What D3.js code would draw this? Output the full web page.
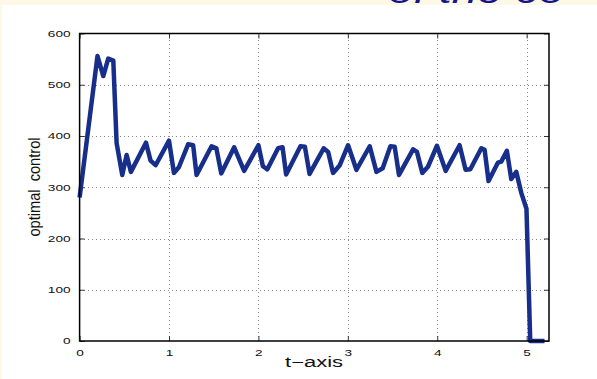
<!DOCTYPE html>
<html>
<head>
<meta charset="utf-8">
<script src="https://cdn.jsdelivr.net/npm/d3@7"></script>
<style>
  html, body { margin: 0; padding: 0; background: #fef8e6; }
  svg { display: block; }
</style>
</head>
<body>
<div id="chart"></div>
<script>
// optimal control vs time
const tValues = [0, 0.2, 0.265, 0.32, 0.377, 0.414, 0.477, 0.526, 0.574, 0.742, 0.794, 0.85,
  1.0, 1.055, 1.11, 1.215, 1.27, 1.308, 1.476, 1.53, 1.584, 1.729, 1.84,
  2.0, 2.05, 2.1, 2.22, 2.27, 2.31, 2.47, 2.52, 2.572, 2.73, 2.78, 2.835, 2.91,
  3.003, 3.096, 3.245, 3.32, 3.39, 3.476, 3.524, 3.572, 3.73, 3.773, 3.833, 3.896,
  3.997, 4.094, 4.25, 4.317, 4.37, 4.493, 4.53, 4.574, 4.678, 4.716, 4.779, 4.828,
  4.884, 4.94, 4.998, 5.04, 5.2];
const control = [280, 556, 517, 551, 547, 386, 324, 363, 330, 387, 352, 343,
  391, 328, 339, 384, 382, 324, 380, 376, 327, 378, 332,
  382, 341, 335, 376, 378, 325, 380, 379, 326, 376, 369, 328, 343,
  382, 334, 380, 330, 337, 380, 379, 324, 374, 369, 328, 340,
  381, 332, 382, 334, 335, 376, 373, 312, 348, 350, 371, 316,
  330, 289, 258, 0, 0];
const xTicks = [0, 1, 2, 3, 4, 5];
const yTicks = [0, 100, 200, 300, 400, 500, 600];

const width = 597, height = 379;
const margin = { top: 33.5, right: 48, bottom: 38, left: 79.6 };

const svg = d3.select('#chart').append('svg')
  .attr('width', width)
  .attr('height', height);

// white slide panel
svg.append('rect')
  .attr('x', 2).attr('y', 5)
  .attr('width', width - 2).attr('height', height - 5)
  .attr('fill', '#ffffff');

// cut-off heading at the top
svg.append('text')
  .attr('transform', 'translate(388,3) scale(1.35,1)')
  .attr('font-family', 'Liberation Sans, Arial, sans-serif')
  .attr('font-style', 'italic')
  .attr('font-size', 34)
  .attr('fill', '#14148c')
  .text('of the co');

const x = d3.scaleLinear()
  .domain([0, 5.25])
  .range([margin.left, width - margin.right]);

const y = d3.scaleLinear()
  .domain([0, 600])
  .range([height - margin.bottom, margin.top]);

// grid
svg.append('g')
  .attr('class', 'grid')
  .attr('transform', `translate(0,${height - margin.bottom})`)
  .call(d3.axisBottom(x).tickValues(xTicks.slice(1))
    .tickSize(-(height - margin.top - margin.bottom)).tickFormat(''));
svg.append('g')
  .attr('class', 'grid')
  .attr('transform', `translate(${margin.left},0)`)
  .call(d3.axisLeft(y).tickValues(yTicks.slice(1, -1))
    .tickSize(-(width - margin.left - margin.right)).tickFormat(''));
svg.selectAll('.grid line')
  .attr('stroke', '#8a8a8a')
  .attr('stroke-width', 1)
  .attr('stroke-dasharray', '1,3')
  .attr('shape-rendering', 'crispEdges');
svg.selectAll('.grid path').remove();

// inward ticks on all four sides
const tickLen = 5;
const axB = svg.append('g')
  .attr('transform', `translate(0,${height - margin.bottom})`)
  .call(d3.axisBottom(x).tickValues(xTicks).tickFormat(d3.format('d'))
    .tickSizeInner(-tickLen).tickSizeOuter(0).tickPadding(9));
const axT = svg.append('g')
  .attr('transform', `translate(0,${margin.top})`)
  .call(d3.axisTop(x).tickValues(xTicks).tickSizeInner(-tickLen).tickSizeOuter(0).tickFormat(''));
const axL = svg.append('g')
  .attr('transform', `translate(${margin.left},0)`)
  .call(d3.axisLeft(y).tickValues(yTicks).tickFormat(d3.format('d'))
    .tickSizeInner(-tickLen).tickSizeOuter(0).tickPadding(9));
const axR = svg.append('g')
  .attr('transform', `translate(${width - margin.right},0)`)
  .call(d3.axisRight(y).tickValues(yTicks).tickSizeInner(-tickLen).tickSizeOuter(0).tickFormat(''));

[axB, axT, axL, axR].forEach(a => {
  a.select('.domain').remove();
  a.selectAll('line').attr('stroke', '#333').attr('stroke-width', 1);
});

svg.selectAll('.tick text')
  .attr('font-family', 'Liberation Sans, Arial, sans-serif')
  .attr('font-size', 9)
  .attr('fill', '#111')
  .attr('lengthAdjust', 'spacingAndGlyphs')
  .attr('textLength', function() { return this.textContent.length * 7.6; });

// line
const line = d3.line()
  .x((d, i) => x(tValues[i]))
  .y(d => y(d));

svg.append('path')
  .datum(control)
  .attr('fill', 'none')
  .attr('stroke', '#172e8a')
  .attr('stroke-width', 4.5)
  .attr('stroke-linejoin', 'round')
  .attr('d', line);

// box
svg.append('rect')
  .attr('x', margin.left).attr('y', margin.top)
  .attr('width', width - margin.left - margin.right)
  .attr('height', height - margin.top - margin.bottom)
  .attr('fill', 'none')
  .attr('stroke', '#000')
  .attr('stroke-width', 1.5);

// axis labels
svg.append('text')
  .attr('x', 314).attr('y', 367)
  .attr('text-anchor', 'middle')
  .attr('font-family', 'Liberation Sans, Arial, sans-serif')
  .attr('font-size', 14)
  .attr('fill', '#111')
  .attr('lengthAdjust', 'spacingAndGlyphs')
  .attr('textLength', 58)
  .text('t\u2212axis');

svg.append('text')
  .attr('transform', 'translate(40,187) scale(1.1,1) rotate(-90)')
  .attr('text-anchor', 'middle')
  .attr('font-family', 'Liberation Sans, Arial, sans-serif')
  .attr('font-size', 14.5)
  .attr('fill', '#111')
  .attr('lengthAdjust', 'spacingAndGlyphs')
  .attr('textLength', 99)
  .text('optimal\u00a0 control');
</script>
</body>
</html>
